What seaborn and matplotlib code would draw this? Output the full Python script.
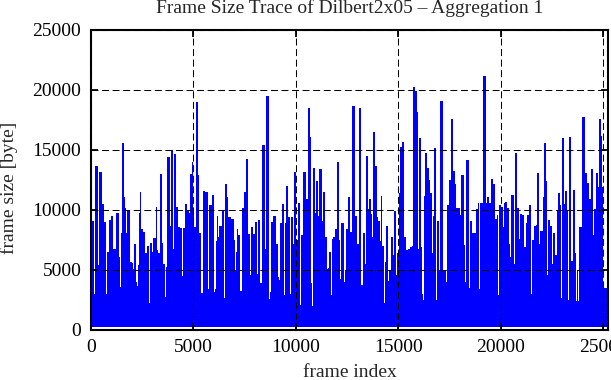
import numpy as np
import pandas as pd
import matplotlib
matplotlib.use("Agg")
import matplotlib.pyplot as plt
import seaborn as sns

# ---- data: per-screen-column peak frame sizes (kbyte) ----
trace_part1 = [11.4, 9.0, 9.0, 2.9, 13.6, 13.6, 13.6, 5.3, 13.1, 13.1, 13.1, 10.4, 10.4, 8.9, 8.9,
               2.9, 6.4, 6.4, 9.1, 9.1, 9.4, 9.4, 6.7, 6.7, 6.7, 9.7, 9.7, 9.7, 6.0, 3.5, 8.0,
               15.5, 15.5, 11.0, 10.1, 8.0, 9.8, 9.8, 9.8, 5.6, 5.6, 5.5, 5.0, 7.1, 7.1, 3.9,
               3.6, 5.3, 9.7, 11.4, 8.3, 8.3, 8.1, 8.1, 6.3, 6.3, 6.9, 6.9, 2.2, 7.2, 7.2, 6.4,
               7.6, 7.6, 7.6, 10.2, 6.6, 6.3, 6.3, 12.9, 12.9, 7.2, 5.4, 5.4, 2.7, 5.2, 14.3,
               14.3, 14.3, 8.6, 14.9, 14.9, 6.7, 14.6, 14.6, 10.2, 10.2]
trace_part2 = [8.5, 8.5, 8.4, 8.4, 4.4, 8.4, 8.4, 10.4, 10.4, 9.9, 9.9, 9.7, 12.9, 12.9, 13.9,
               10.0, 8.5, 8.5, 18.9, 18.9, 12.8, 8.0, 8.0, 3.0, 3.0, 11.5, 11.5, 11.4, 11.4,
               11.4, 3.3, 10.3, 10.3, 10.3, 11.2, 11.2, 3.1, 3.3, 7.3, 9.4, 7.7, 8.6, 8.6, 8.6,
               9.9, 9.9, 2.6, 12.1, 12.1, 11.0, 9.3, 9.3, 9.3, 9.2, 9.2, 9.2, 7.4, 4.9, 6.4,
               8.3, 7.8, 7.8, 3.2, 3.2, 10.1, 10.1, 11.4, 11.4, 14.2, 14.2, 7.9, 7.9, 4.5, 8.5,
               8.5, 7.9, 7.9, 8.9, 8.9, 4.6, 9.1, 9.1, 3.8, 3.8, 15.3, 15.3, 15.3]
trace_part3 = [6.7, 19.4, 19.4, 19.4, 2.5, 3.1, 8.9, 8.9, 9.4, 9.4, 9.4, 7.1, 7.1, 4.3, 4.1,
               8.8, 8.8, 10.4, 10.4, 2.8, 8.8, 11.9, 11.9, 9.3, 9.3, 2.9, 9.3, 9.3, 7.1, 13.1,
               13.1, 7.4, 7.4, 10.5, 10.5, 2.0, 7.8, 7.8, 13.1, 13.1, 13.1, 10.8, 10.8, 18.4,
               18.4, 16.0, 3.8, 1.9, 13.4, 13.4, 9.7, 12.3, 12.3, 9.4, 13.3, 13.3, 13.3, 9.0,
               11.4, 11.4, 7.7, 7.7, 5.0, 5.1, 6.4, 6.4, 2.8, 7.5, 7.7, 7.7, 8.3, 8.3, 13.9,
               13.9, 7.4, 4.2, 8.8, 8.8, 8.8, 3.9, 4.9, 8.3, 8.3, 11.0, 11.0, 8.1, 8.1]
trace_part4 = [18.6, 18.6, 18.6, 9.4, 9.4, 7.1, 7.1, 18.4, 18.4, 3.7, 3.7, 8.0, 8.0, 5.4, 14.4,
               14.4, 10.0, 10.8, 10.8, 9.6, 7.7, 16.4, 16.4, 13.6, 13.6, 9.3, 9.0, 9.0, 7.3,
               11.1, 6.9, 6.9, 2.2, 5.6, 8.6, 8.6, 4.0, 4.8, 4.8, 7.7, 7.7, 6.2, 9.8, 9.8, 4.5,
               6.3, 6.3, 11.3, 15.2, 15.2, 15.6, 15.6, 7.7, 7.7, 6.6, 6.6, 6.7, 6.7, 6.8, 6.8,
               6.9, 20.2, 20.2, 19.8, 19.8, 18.1, 6.7, 15.9, 15.9, 6.8, 2.9, 2.4, 11.1, 14.7,
               14.7, 13.4, 13.4, 12.4, 11.3, 11.3, 6.3, 9.4, 15.1, 15.1, 2.4, 9.0, 9.0]
trace_part5 = [4.9, 19.0, 19.0, 19.0, 4.9, 4.9, 4.9, 3.9, 10.3, 10.3, 12.4, 12.4, 17.5, 17.5,
               13.2, 13.2, 12.1, 10.1, 10.1, 10.1, 10.1, 9.5, 12.8, 12.8, 12.8, 7.0, 3.9, 14.1,
               14.1, 14.1, 3.4, 9.0, 9.0, 8.0, 8.0, 8.0, 8.0, 10.0, 10.0, 10.5, 3.3, 10.5, 10.5,
               10.5, 21.1, 21.1, 21.1, 10.5, 11.0, 11.0, 10.5, 10.5, 12.5, 12.5, 12.1, 12.1,
               9.2, 9.2, 9.5, 2.8, 10.3, 10.3, 10.2, 10.2, 8.5, 10.5, 10.6, 10.6, 10.1, 10.1,
               7.1, 6.0, 11.2, 11.2, 11.2, 5.4, 14.7, 14.7, 10.1, 10.1, 7.5, 9.6, 9.6, 9.5,
               9.5, 6.8, 6.8]
trace_part6 = [8.8, 9.5, 9.5, 10.3, 10.3, 2.9, 7.4, 7.4, 8.6, 8.6, 8.7, 13.0, 13.0, 7.1, 8.2,
               8.2, 8.2, 11.0, 15.5, 15.5, 12.3, 4.5, 9.1, 9.1, 8.6, 8.6, 5.4, 8.0, 8.0, 6.2,
               6.2, 9.8, 11.3, 11.3, 10.3, 2.6, 15.9, 15.9, 10.4, 11.5, 11.5, 9.9, 2.4, 16.0,
               16.0, 5.7, 5.7, 11.6, 11.6, 6.3, 2.3, 4.9, 2.3, 8.5, 8.5, 8.5, 17.7, 17.7, 17.7,
               13.0, 13.0, 12.2, 12.2, 10.8, 10.8, 13.3, 13.3, 7.8, 10.0, 10.0, 13.0, 13.0,
               11.8, 17.5, 17.5, 16.1, 11.8, 3.4, 3.4, 3.4, 3.4, 3.4]

total_frames = 25230          # length of the trace (frames)
min_frame_size = 300          # smallest (B) frames sit near the bottom, bytes
x_ticks = [0, 5000, 10000, 15000, 20000, 25000]
y_ticks = [0, 5000, 10000, 15000, 20000, 25000]
title = "Frame Size Trace of Dilbert2x05 \u2013 Aggregation 1"

# ---- build trace table ----
peaks = np.array(trace_part1 + trace_part2 + trace_part3 + trace_part4 +
                 trace_part5 + trace_part6) * 1000.0
n = len(peaks)
frames_per_col = total_frames / n
centers = (np.arange(n) + 0.5) * frames_per_col
xs = np.repeat(centers, 3)
ys = np.column_stack([np.full(n, min_frame_size), peaks,
                      np.full(n, min_frame_size)]).ravel()
df = pd.DataFrame({"frame index": xs, "frame size [byte]": ys})

# ---- style ----
sns.set_style("ticks")
plt.rcParams["font.family"] = ["Liberation Serif", "DejaVu Serif"]
plt.rcParams["lines.scale_dashes"] = False
plt.rcParams["path.simplify"] = False

fig = plt.figure(figsize=(6.11, 3.80), dpi=100)
ax = fig.add_axes([91 / 611, 50 / 380, 517 / 611, 300 / 380])

sns.lineplot(data=df, x="frame index", y="frame size [byte]", sort=False,
             estimator=None, color="#0000ff", linewidth=0.72, ax=ax,
             antialiased=False)

ax.set_xlim(0, total_frames)
ax.set_ylim(0, 25000)
ax.set_xticks(x_ticks)
ax.set_yticks(y_ticks)
ax.set_axisbelow(False)
ax.grid(True, color="black", linestyle=(0, (5, 2.6)), linewidth=0.75)

for s in ax.spines.values():
    s.set_linewidth(1.5)
    s.set_color("black")
    s.set_visible(True)

ax.tick_params(axis="both", direction="in", top=True, right=True,
               length=5, width=1.3, labelsize=14, colors="black")
ax.tick_params(axis="x", pad=6.5)
ax.tick_params(axis="y", pad=7)

ax.set_xlabel("frame index", fontsize=14)
ax.set_ylabel("frame size [byte]", fontsize=14)
ax.xaxis.set_label_coords(0.5, -0.112)
ax.yaxis.set_label_coords(-0.141, 0.475)
ax.set_title(title, fontsize=14, pad=12)

fig.savefig("out.png", dpi=100)
